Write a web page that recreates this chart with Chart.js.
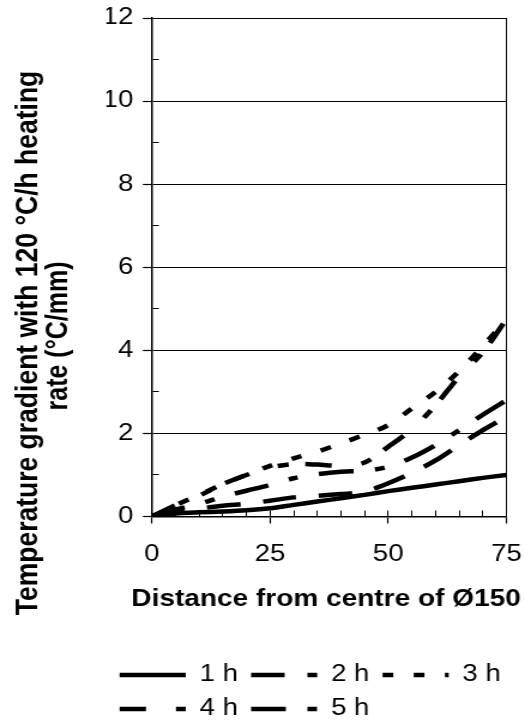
<!DOCTYPE html>
<html>
<head>
<meta charset="utf-8">
<script src="https://cdn.jsdelivr.net/npm/chart.js@4.4.1/dist/chart.umd.min.js"></script>
<style>
html,body{margin:0;padding:0;background:#ffffff;}
canvas{display:block;}
</style>
</head>
<body>
<canvas id="c" width="438" height="726" style="width:525px;height:726px"></canvas>
<script>
// ---------- data ----------
const xValues = [0, 5, 10, 15, 20, 25, 30, 35, 40, 45, 50, 55, 60, 65, 70, 75];
const seriesNames = ['1 h', '2 h', '3 h', '4 h', '5 h'];
const h1 = [0, 0.07, 0.10, 0.12, 0.15, 0.20, 0.28, 0.36, 0.44, 0.52, 0.61, 0.69, 0.77, 0.85, 0.93, 1.00];
const h2 = [0, 0.12, 0.19, 0.26, 0.31, 0.38, 0.46, 0.50, 0.54, 0.60, 0.80, 1.05, 1.35, 1.72, 2.08, 2.40];
const h3 = [0, 0.27, 0.52, 0.78, 1.00, 1.22, 1.40, 1.56, 1.76, 1.97, 2.20, 2.60, 3.00, 3.50, 4.10, 4.75];
const h4 = [0, 0.27, 0.50, 0.78, 1.00, 1.18, 1.26, 1.25, 1.22, 1.30, 1.68, 2.10, 2.68, 3.37, 3.95, 4.75];
const h5 = [0, 0.17, 0.30, 0.48, 0.62, 0.76, 0.92, 1.02, 1.08, 1.10, 1.20, 1.42, 1.72, 2.08, 2.45, 2.80];
const xTickLabels = [0, 25, 50, 75];
const yTickLabels = [0, 2, 4, 6, 8, 10, 12];
const xTitle = 'Distance from centre of Ø150';
const yTitleLines = ['Temperature gradient with 120 °C/h heating', 'rate (°C/mm)'];

// ---------- styles ----------
const FONT = "'Liberation Sans', Arial, Helvetica, sans-serif";
const seriesValues = [h1, h2, h3, h4, h5];
const dashes = [[], [28, 19], [9, 17], [22, 25, 9, 14], [29, 18, 8, 18]];

const datasets = seriesValues.map((vals, i) => ({
  label: seriesNames[i],
  data: xValues.map((x, j) => ({ x: x, y: vals[j] })),
  borderColor: '#000',
  backgroundColor: '#000',
  borderWidth: 4.5,
  borderDash: dashes[i],
  borderCapStyle: 'butt',
  pointRadius: 0,
  pointHoverRadius: 0,
  tension: 0.3,
  fill: false
}));

const titlesPlugin = {
  id: 'axisTitles',
  afterDraw(chart) {
    const ctx = chart.ctx;
    ctx.save();
    ctx.fillStyle = '#000';
    // x-axis title
    ctx.font = 'bold 23.4px ' + FONT;
    ctx.textAlign = 'center';
    ctx.textBaseline = 'middle';
    ctx.fillText(xTitle, 272, 600, 325);
    // y-axis title (two rotated lines)
    const lines = [
      { x: 30.6, y: 343, size: 26.5, max: 552 },
      { x: 55.5, y: 336, size: 25, max: 150 }
    ];
    ctx.textBaseline = 'alphabetic';
    yTitleLines.forEach((t, i) => {
      const L = lines[i];
      ctx.save();
      ctx.font = 'bold ' + L.size + 'px ' + FONT;
      ctx.translate(L.x, L.y);
      ctx.rotate(-Math.PI / 2);
      ctx.fillText(t, 0, 0, L.max);
      ctx.restore();
    });
    ctx.restore();
  }
};

new Chart(document.getElementById('c'), {
  type: 'line',
  data: { datasets: datasets },
  options: {
    responsive: false,
    devicePixelRatio: 1,
    animation: false,
    events: [],
    layout: { padding: { left: 88.8, right: 0, top: 18, bottom: -4.5 } },
    plugins: {
      tooltip: { enabled: false },
      legend: {
        display: true,
        position: 'bottom',
        align: 'start',
        labels: {
          usePointStyle: true,
          pointStyle: 'line',
          pointStyleWidth: 55.2,
          padding: 11,
          color: '#000',
          font: { family: FONT, size: 23 },
          generateLabels: (chart) => chart.data.datasets.map((ds, i) => ({
            text: ds.label,
            fillStyle: '#000',
            strokeStyle: '#000',
            fontColor: '#000',
            lineWidth: ds.borderWidth,
            lineDash: ds.borderDash,
            lineDashOffset: 0,
            lineCap: 'butt',
            pointStyle: 'line',
            hidden: false,
            datasetIndex: i
          }))
        }
      }
    },
    scales: {
      x: {
        type: 'linear',
        min: 0,
        max: 75,
        afterFit: (s) => { s.height = 136; },
        ticks: {
          stepSize: 5,
          autoSkip: false,
          maxRotation: 0,
          padding: 0,
          color: '#000',
          font: { family: FONT, size: 23, lineHeight: 2.74 },
          callback: (v) => xTickLabels.includes(v) ? String(v) : ''
        },
        grid: {
          color: '#000',
          lineWidth: 1,
          drawOnChartArea: true,
          drawTicks: true,
          tickLength: 7,
          tickWidth: 1.2,
          tickColor: (c) => (c.tick && xTickLabels.includes(c.tick.value)) ? '#000' : 'rgba(0,0,0,0)'
        },
        border: {
          display: true,
          color: '#000',
          width: 1.5,
          dash: (c) => {
            if (!c.tick || c.tick.value === 75) return [];
            const a = c.chart.chartArea;
            const h = a.bottom - a.top;
            return [0, h - 6, 6, 4000];
          }
        },
        title: { display: false }
      },
      y: {
        type: 'linear',
        min: 0,
        max: 12,
        afterFit: (s) => { s.width = 37.9; },
        ticks: {
          stepSize: 1,
          autoSkip: false,
          padding: 8,
          color: '#000',
          font: { family: FONT, size: 23, lineHeight: 0.5 },
          callback: (v) => yTickLabels.includes(v) ? String(v) : ''
        },
        grid: {
          color: '#000',
          lineWidth: 1,
          drawOnChartArea: true,
          drawTicks: true,
          tickLength: 7.5,
          tickWidth: 1.2,
          tickColor: (c) => (c.tick && yTickLabels.includes(c.tick.value)) ? '#000' : 'rgba(0,0,0,0)'
        },
        border: {
          display: true,
          color: '#000',
          width: 1.5,
          dash: (c) => (c.tick && !yTickLabels.includes(c.tick.value)) ? [5, 4000] : []
        }
      },
      y2: {
        type: 'linear',
        position: 'right',
        display: true,
        afterFit: (s) => { s.width = 15.5; },
        grid: { display: false, drawTicks: false },
        border: { display: false },
        ticks: { display: false }
      }
    }
  },
  plugins: [titlesPlugin]
});
</script>
</body>
</html>
